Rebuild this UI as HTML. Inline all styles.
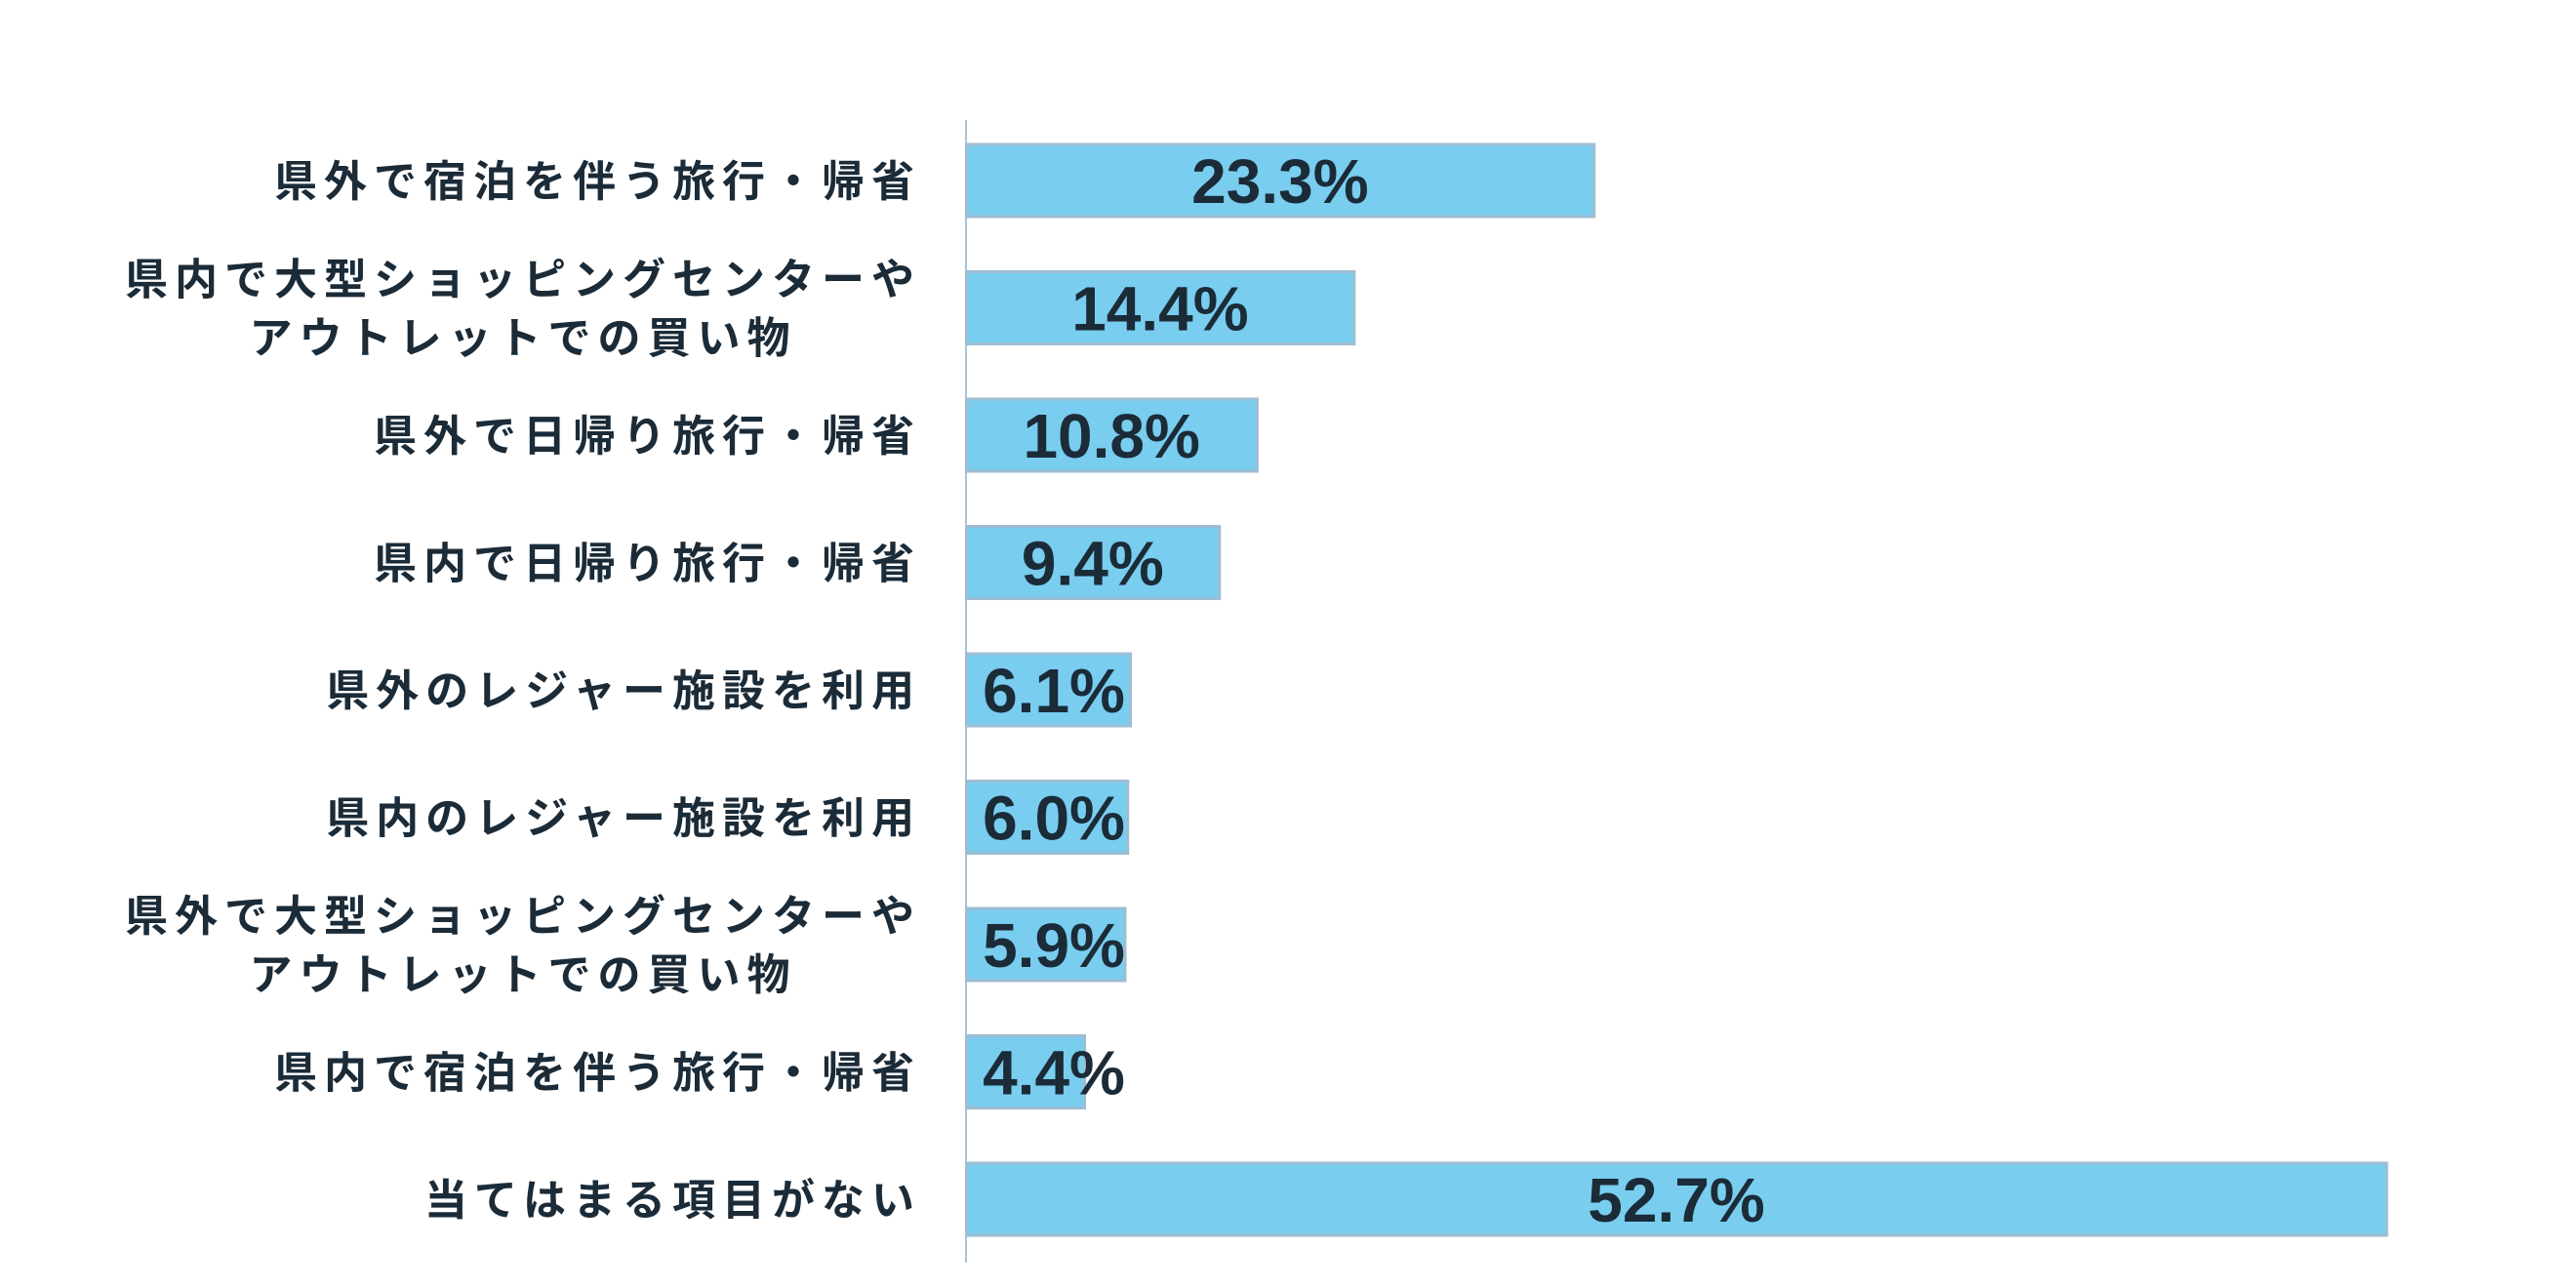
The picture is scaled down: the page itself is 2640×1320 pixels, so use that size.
<!DOCTYPE html>
<html><head><meta charset="utf-8"><style>
body{margin:0;background:#fff;}
svg{display:block;}
text{font-family:"Liberation Sans","Noto Sans CJK JP",sans-serif;font-weight:bold;fill:#1b2b38;}
</style></head><body>
<svg id="chart" width="2640" height="1320" viewBox="0 0 2640 1320" xmlns="http://www.w3.org/2000/svg">
<line x1="990" y1="123" x2="990" y2="1294" stroke="#a9c4d6" stroke-width="2"/>
<g id="bars"></g>
</svg>
<script>
const categories = [
  ["県外で宿泊を伴う旅行・帰省"],
  ["県内で大型ショッピングセンターや","アウトレットでの買い物"],
  ["県外で日帰り旅行・帰省"],
  ["県内で日帰り旅行・帰省"],
  ["県外のレジャー施設を利用"],
  ["県内のレジャー施設を利用"],
  ["県外で大型ショッピングセンターや","アウトレットでの買い物"],
  ["県内で宿泊を伴う旅行・帰省"],
  ["当てはまる項目がない"]
];
const values = [23.3, 14.4, 10.8, 9.4, 6.1, 6.0, 5.9, 4.4, 52.7];
const valueLabels = ["23.3%","14.4%","10.8%","9.4%","6.1%","6.0%","5.9%","4.4%","52.7%"];

const NS = "http://www.w3.org/2000/svg";
const x0 = 990, pxPerUnit = (2446 - 990) / 52.7;
const xScale = v => x0 + v * pxPerUnit;
const yCenter = i => 185 + i * 130.5;
const barH = 74;
const g = document.getElementById('bars');
function mk(tag, attrs){const e=document.createElementNS(NS,tag);for(const k in attrs)e.setAttribute(k,attrs[k]);return e;}

values.forEach((v, i) => {
  const yc = yCenter(i);
  const xe = xScale(v);
  const r = mk('rect', {x:x0+1, y:yc-barH/2, width:Math.max(0,xe-x0-1), height:barH, fill:'#79cdef', stroke:'#9dbdd2', 'stroke-width':3});
  
  
  g.appendChild(r);

  const lw = valueLabels[i].length * 34;
  let cx = (x0 + xe) / 2;
  if (cx - lw/2 < x0 + 22) cx = x0 + 22 + lw/2;
  const t = mk('text', {x:cx, y:yc+23, 'text-anchor':'middle', 'font-size':64});
  t.textContent = valueLabels[i];
  
  
  g.appendChild(t);

  const lines = categories[i];
  const lbl = mk('text', {'font-size':44, 'letter-spacing':7, 'text-anchor':'middle'});
  
  
  g.appendChild(lbl);
  lines.forEach((s, j) => {
    const ts = mk('tspan', {x:0, y: yc + 16 + (j - (lines.length-1)/2) * 60});
    ts.textContent = s;
    lbl.appendChild(ts);
  });
  const bb = lbl.getBBox();
  const cxl = 944 - bb.width/2;
  Array.from(lbl.children).forEach(ts => ts.setAttribute('x', cxl));
});
</script>
</body></html>
